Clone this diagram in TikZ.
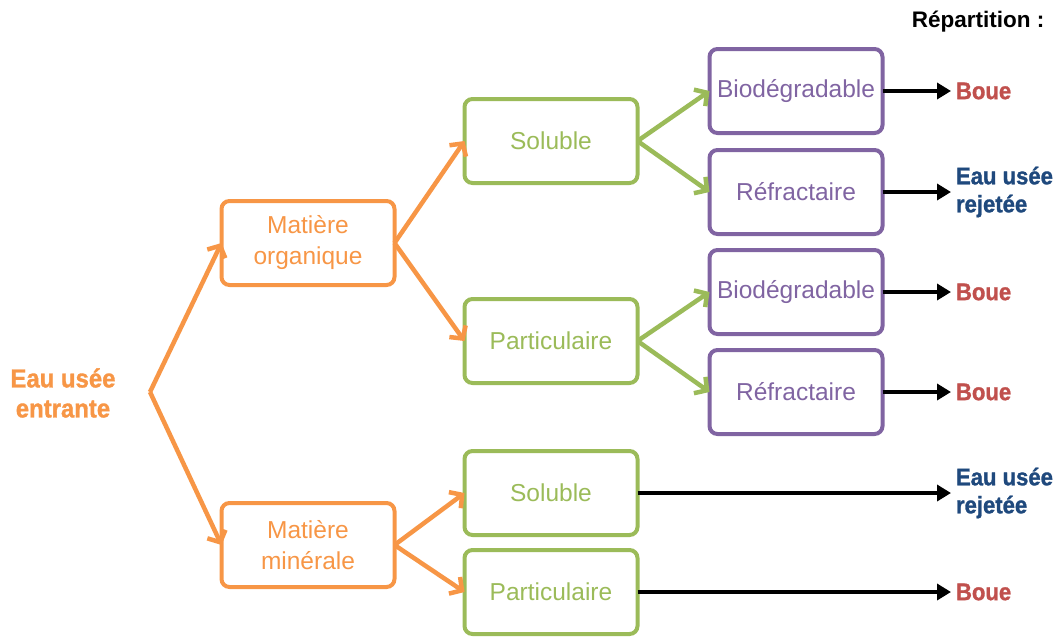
\documentclass[tikz,border=0pt]{standalone}
\usepackage{fontspec}
\setmainfont{Liberation Sans}
\newfontfamily\tagfont[FakeStretch=0.92,FakeBold=1.2]{Liberation Sans}
\definecolor{O}{RGB}{247,150,70}
\definecolor{G}{RGB}{155,187,89}
\definecolor{P}{RGB}{128,100,162}
\definecolor{R}{RGB}{192,80,77}
\definecolor{B}{RGB}{31,73,125}
\usetikzlibrary{arrows.meta}
\tikzstyle{base}=[x=1pt, y=-1pt, inner sep=0pt, outer sep=0pt]
\tikzstyle{box}=[draw, line width=4pt, rounded corners=8pt, minimum width=173pt, minimum height=84pt, align=center, font=\fontsize{24.5}{31}\selectfont]
\tikzstyle{obox}=[box, draw=O, text=O]
\tikzstyle{gbox}=[box, draw=G, text=G]
\tikzstyle{pbox}=[box, draw=P, text=P]
\tikzstyle{tag}=[anchor=west, align=left, font=\tagfont\bfseries\fontsize{24}{28}\selectfont]
\tikzstyle{olink}=[O, line width=4.5pt, -{Straight Barb[length=9pt,width=20pt]}]
\tikzstyle{glink}=[G, line width=4.5pt, -{Straight Barb[length=9pt,width=20pt]}]
\tikzstyle{klink}=[black, line width=4pt, -{Triangle[length=14pt,width=16pt]}, shorten >=5pt]

\begin{document}
\begin{tikzpicture}[base]
    \path [use as bounding box] (0,0) rectangle (1057,640);
    \node [font=\bfseries\fontsize{22.5}{26}\selectfont] (title) at (978,22) {Répartition :};
    \node [O, align=center, font=\tagfont\bfseries\fontsize{26}{30}\selectfont] (inflow) at (63,393) {Eau usée\\entrante};
    \coordinate (split) at (150,392);
    \node [obox] (mo) at (308,243) {Matière\\organique};
    \node [obox] (mm) at (308,545) {Matière\\minérale};
    \node [gbox] (s1) at (551,141) {Soluble};
    \node [gbox] (p1) at (551,341) {Particulaire};
    \node [gbox] (s2) at (551,493) {Soluble};
    \node [gbox] (p2) at (551,592) {Particulaire};
    \node [pbox] (b1) at (796,91) {Biodégradable};
    \node [pbox] (r1) at (796,192) {Réfractaire};
    \node [pbox] (b2) at (796,292) {Biodégradable};
    \node [pbox] (r2) at (796,392) {Réfractaire};
    \node [tag, R] (o1) at (956,91) {Boue};
    \node [tag, B] (o2) at (956,192) {Eau usée\\rejetée};
    \node [tag, R] (o3) at (956,292) {Boue};
    \node [tag, R] (o4) at (956,392) {Boue};
    \node [tag, B] (o5) at (956,493) {Eau usée\\rejetée};
    \node [tag, R] (o6) at (956,592) {Boue};
    \draw [olink] (split) -- (mo.west);
    \draw [olink] (split) -- (mm.west);
    \draw [olink] (mo.east) -- (s1.west);
    \draw [olink] (mo.east) -- (p1.west);
    \draw [olink] (mm.east) -- (s2.west);
    \draw [olink] (mm.east) -- (p2.west);
    \draw [glink] (s1.east) -- (b1.west);
    \draw [glink] (s1.east) -- (r1.west);
    \draw [glink] (p1.east) -- (b2.west);
    \draw [glink] (p1.east) -- (r2.west);
    \draw [klink] (b1.east) -- (o1.west);
    \draw [klink] (r1.east) -- (o2.west);
    \draw [klink] (b2.east) -- (o3.west);
    \draw [klink] (r2.east) -- (o4.west);
    \draw [klink] (s2.east) -- (o5.west);
    \draw [klink] (p2.east) -- (o6.west);
\end{tikzpicture}
\end{document}
